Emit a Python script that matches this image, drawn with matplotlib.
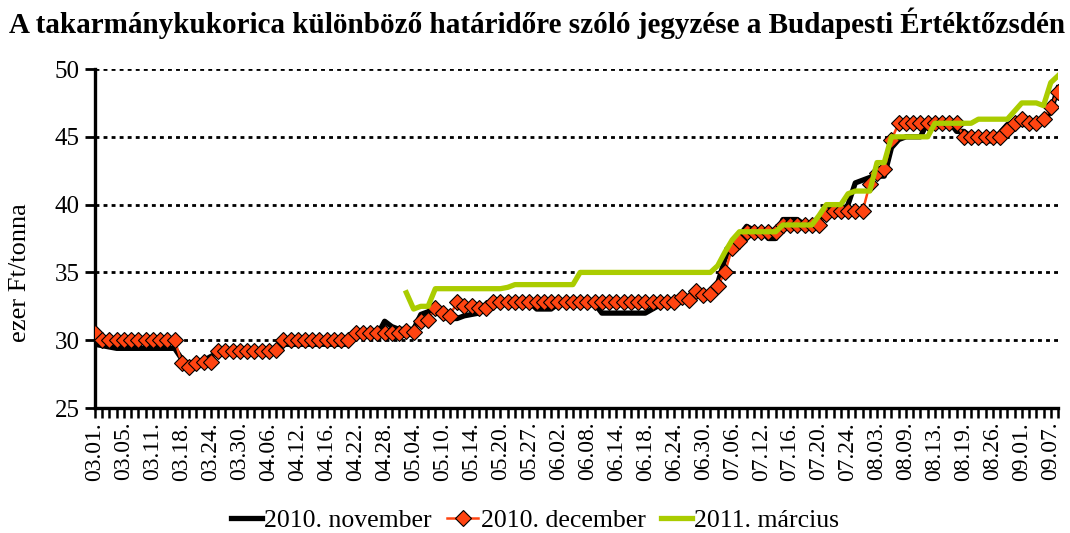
import matplotlib
matplotlib.use("Agg")
import matplotlib.pyplot as plt
import numpy as np

plt.rcParams['font.family'] = ['Liberation Serif', 'DejaVu Serif']

# tick labels, one every 4th trading day
tick_labels = ["03.01.", "03.05.", "03.11.", "03.18.", "03.24.", "03.30.", "04.06.",
               "04.12.", "04.16.", "04.22.", "04.28.", "05.04.", "05.10.", "05.14.",
               "05.20.", "05.27.", "06.02.", "06.08.", "06.14.", "06.18.", "06.24.",
               "06.30.", "07.06.", "07.12.", "07.16.", "07.20.", "07.24.", "08.03.",
               "08.09.", "08.13.", "08.19.", "08.26.", "09.01.", "09.07."]

nov_2010 = [29.7, 29.6, 29.5, 29.4, 29.4, 29.4, 29.4, 29.4, 29.4, 29.4,
            29.4, 29.4, 28.6, 28.2, 28.3, 28.5, 28.8, 29.1, 29.1, 29.1,
            29.1, 29.1, 29.1, 29.1, 29.1, 29.1, 29.7, 29.7, 29.7, 29.7,
            29.7, 29.7, 29.7, 29.7, 29.7, 29.7, 30.4, 30.4, 30.4, 30.4,
            31.4, 31.0, 30.8, 30.8, 30.8, 31.9, 32.1, 32.3, 31.7, 31.6,
            31.6, 31.8, 31.9, 32.0, 32.4, 32.7, 32.8, 32.8, 32.8, 32.8,
            32.8, 32.3, 32.3, 32.3, 32.7, 32.7, 32.7, 32.7, 32.7, 32.7,
            32.0, 32.0, 32.0, 32.0, 32.0, 32.0, 32.0, 32.3, 32.6, 32.8,
            32.9, 33.3, 33.1, 33.4, 33.1, 33.3, 34.2, 36.0, 37.2, 37.7,
            38.4, 38.1, 38.1, 37.5, 37.5, 38.9, 38.9, 38.9, 38.5, 38.5,
            38.6, 39.8, 39.6, 39.3, 40.0, 41.6, 41.8, 42.0, 42.1, 42.1,
            44.2, 44.8, 45.0, 45.0, 45.0, 46.1, 46.1, 46.1, 46.1, 45.4,
            45.4, 45.0, 44.8, 44.7, 44.7, 45.3, 45.9, 46.1, 46.0, 45.8,
            45.8, 46.1, 46.9, 48.6]

dec_2010 = [30.5, 30.0, 30.0, 30.0, 30.0, 30.0, 30.0, 30.0, 30.0, 30.0,
            30.0, 30.0, 28.3, 28.0, 28.3, 28.4, 28.4, 29.2, 29.2, 29.2,
            29.2, 29.2, 29.2, 29.2, 29.2, 29.3, 30.0, 30.0, 30.0, 30.0,
            30.0, 30.0, 30.0, 30.0, 30.0, 30.0, 30.5, 30.5, 30.5, 30.5,
            30.5, 30.5, 30.5, 30.7, 30.6, 31.4, 31.5, 32.4, 32.0, 31.8,
            32.8, 32.5, 32.5, 32.4, 32.4, 32.8, 32.8, 32.8, 32.8, 32.8,
            32.8, 32.8, 32.8, 32.8, 32.8, 32.8, 32.8, 32.8, 32.8, 32.8,
            32.8, 32.8, 32.8, 32.8, 32.8, 32.8, 32.8, 32.8, 32.8, 32.8,
            32.8, 33.2, 33.0, 33.6, 33.3, 33.4, 34.0, 35.0, 36.8, 37.3,
            38.0, 38.0, 38.0, 38.0, 38.0, 38.5, 38.5, 38.5, 38.5, 38.5,
            38.5, 39.3, 39.5, 39.5, 39.5, 39.5, 39.5, 41.5, 42.3, 42.6,
            44.8, 46.0, 46.0, 46.0, 46.0, 46.0, 46.0, 46.0, 46.0, 46.0,
            45.0, 45.0, 45.0, 45.0, 45.0, 45.0, 45.5, 46.0, 46.3, 46.0,
            46.0, 46.3, 47.2, 48.3]

mar_2011 = [None] * 43 + [
            33.5, 32.3, 32.5, 32.5, 33.8, 33.8, 33.8, 33.8, 33.8, 33.8,
            33.8, 33.8, 33.8, 33.8, 33.9, 34.1, 34.1, 34.1, 34.1, 34.1,
            34.1, 34.1, 34.1, 34.1, 35.0, 35.0, 35.0, 35.0, 35.0, 35.0,
            35.0, 35.0, 35.0, 35.0, 35.0, 35.0, 35.0, 35.0, 35.0, 35.0,
            35.0, 35.0, 35.0, 35.5, 36.5, 37.4, 38.0, 38.0, 38.0, 38.0,
            38.0, 38.0, 38.5, 38.5, 38.5, 38.5, 38.5, 39.2, 40.0, 40.0,
            40.0, 40.8, 41.0, 41.0, 41.0, 43.1, 43.1, 45.0, 45.0, 45.0,
            45.0, 45.0, 45.0, 46.0, 46.0, 46.0, 46.0, 46.0, 46.0, 46.3,
            46.3, 46.3, 46.3, 46.3, 46.9, 47.5, 47.5, 47.5, 47.3, 49.0,
            49.5]

x = np.arange(len(dec_2010))
nov = np.array(nov_2010, dtype=float)
dec = np.array(dec_2010, dtype=float)
mar = np.array([np.nan if v is None else v for v in mar_2011], dtype=float)

fig = plt.figure(figsize=(10.7, 5.33), dpi=100)
ax = fig.add_axes([0.0888, 0.2345, 0.9, 0.636])

for yv in [30, 35, 40, 45, 50]:
    ax.axhline(yv, color="black", lw=2.0, ls=(0, (1.4, 1.5)), zorder=1)

ax.plot(x, nov, color="black", lw=3.8, label="2010. november", zorder=2)
ax.plot(x, dec, color="#FF4411", lw=1.8, marker="D", ms=8.5, mfc="#FF4411",
        mec="black", mew=0.8, label="2010. december", zorder=3)
ax.plot(x, mar, color="#AACC00", lw=3.8, label="2011. március", zorder=4)

ax.set_xlim(0, len(x) - 1)
ax.set_ylim(25, 50)
ax.set_yticks([25, 30, 35, 40, 45, 50])
ax.tick_params(axis="y", labelsize=18, length=7, width=2, direction="out", pad=4)

ax.set_xticks(x)
ax.set_xticklabels([tick_labels[i // 4] if i % 4 == 0 and i // 4 < len(tick_labels) else ""
                    for i in x], rotation=90)
ax.tick_params(axis="x", labelsize=17, length=7, width=1.8, direction="out", pad=3)

for s in ["top", "right"]:
    ax.spines[s].set_visible(False)
for s in ["left", "bottom"]:
    ax.spines[s].set_linewidth(2.4)
ax.spines["bottom"].set_zorder(5)

ax.set_ylabel("ezer Ft/tonna", fontsize=19)
ax.yaxis.set_label_coords(-0.066, 0.40)

fig.text(0.008, 0.985, "A takarmánykukorica különböző határidőre szóló jegyzése a Budapesti Értéktőzsdén",
         fontsize=21, fontweight="bold", ha="left", va="top")

fig.legend(loc="center", bbox_to_anchor=(0.5, 0.024), ncol=3, frameon=False,
           fontsize=18.5, handlelength=1.2, handletextpad=0.1, columnspacing=0.6)

fig.savefig("out.png", dpi=100)
